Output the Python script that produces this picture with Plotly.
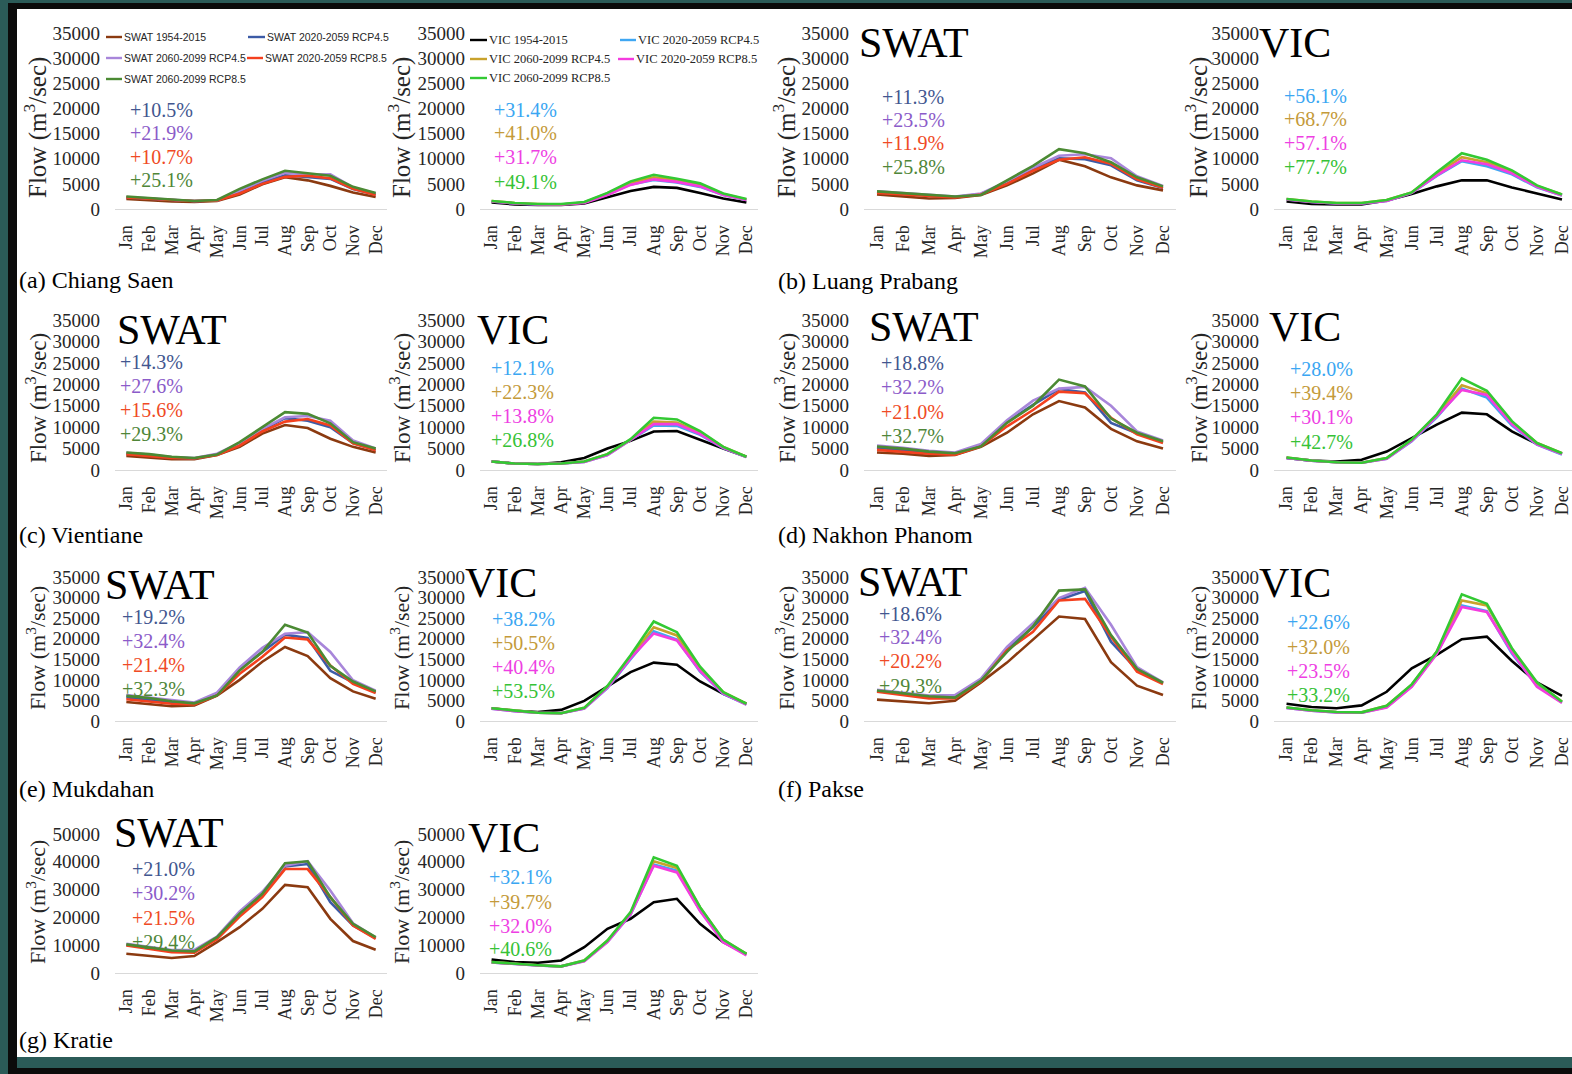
import plotly.graph_objects as go

# ---------------------------------------------------------------------------
# Mean monthly flow (m3/s) at seven Mekong stations, SWAT and VIC models
# ---------------------------------------------------------------------------
MONTHS = ["Jan", "Feb", "Mar", "Apr", "May", "Jun", "Jul", "Aug", "Sep", "Oct", "Nov", "Dec"]
PERIODS = ["1954-2015", "2020-2059 RCP4.5", "2060-2099 RCP4.5", "2020-2059 RCP8.5", "2060-2099 RCP8.5"]

# (a) Chiang Saen
CS_SWAT_HIST = [2000, 1700, 1500, 1400, 1600, 2900, 4900, 6300, 5700, 4600, 3300, 2400]
CS_SWAT_R45A = [2300, 2000, 1800, 1600, 1700, 3400, 5300, 6700, 6400, 6000, 4000, 2900]
CS_SWAT_R45B = [2400, 2100, 1900, 1600, 1700, 3600, 5600, 7200, 6800, 6900, 4300, 3100]
CS_SWAT_R85A = [2300, 2000, 1800, 1600, 1700, 3100, 5000, 6400, 6600, 6100, 4000, 2800]
CS_SWAT_R85B = [2500, 2200, 1900, 1600, 1800, 4000, 5900, 7600, 7100, 6600, 4400, 3200]
CS_SWAT_PCT = [10.5, 21.9, 10.7, 25.1]
CS_VIC_HIST = [1300, 900, 800, 800, 1100, 2400, 3600, 4400, 4200, 3200, 2100, 1300]
CS_VIC_R45A = [1500, 1100, 900, 900, 1300, 2900, 4900, 5800, 5300, 4400, 2800, 1800]
CS_VIC_R45B = [1600, 1200, 1000, 900, 1300, 3100, 5300, 6300, 5800, 4900, 3000, 1900]
CS_VIC_R85A = [1500, 1100, 900, 900, 1200, 2800, 4800, 5900, 5400, 4500, 2800, 1800]
CS_VIC_R85B = [1600, 1200, 1000, 1000, 1400, 3200, 5500, 6800, 6000, 5100, 3100, 2000]
CS_VIC_PCT = [31.4, 41.0, 31.7, 49.1]

# (b) Luang Prabang
LP_SWAT_HIST = [2900, 2500, 2100, 2200, 2800, 4700, 7100, 9800, 8500, 6300, 4700, 3700]
LP_SWAT_R45A = [3300, 3000, 2600, 2400, 3000, 5200, 7900, 10100, 9900, 8700, 5700, 4200]
LP_SWAT_R45B = [3500, 3200, 2800, 2500, 3100, 5500, 8200, 10600, 10900, 10100, 6500, 4600]
LP_SWAT_R85A = [3200, 2900, 2500, 2300, 2900, 5000, 7600, 9800, 10300, 9000, 5900, 4200]
LP_SWAT_R85B = [3500, 3200, 2800, 2500, 2800, 5700, 8600, 11900, 11100, 9300, 6300, 4500]
LP_SWAT_PCT = [11.3, 23.5, 11.9, 25.8]
LP_VIC_HIST = [1500, 1000, 900, 900, 1700, 3000, 4500, 5700, 5700, 4300, 3100, 1900]
LP_VIC_R45A = [1900, 1400, 1100, 1100, 1600, 3200, 6600, 9500, 8500, 6900, 4300, 2700]
LP_VIC_R45B = [2000, 1500, 1200, 1200, 1800, 3300, 7000, 10300, 9300, 7500, 4600, 2900]
LP_VIC_R85A = [1900, 1400, 1100, 1100, 1600, 3200, 6700, 9700, 8900, 7100, 4400, 2700]
LP_VIC_R85B = [2000, 1500, 1200, 1200, 1800, 3300, 7300, 11100, 9800, 7700, 4700, 2900]
LP_VIC_PCT = [56.1, 68.7, 57.1, 77.7]

# (c) Vientiane
VT_SWAT_HIST = [3300, 2900, 2500, 2500, 3500, 5400, 8500, 10500, 9800, 7300, 5400, 4100]
VT_SWAT_R45A = [3800, 3400, 2900, 2700, 3600, 6000, 9300, 12100, 11500, 10000, 6300, 4700]
VT_SWAT_R45B = [4000, 3600, 3000, 2800, 3800, 6300, 9600, 12300, 12600, 11500, 6900, 5000]
VT_SWAT_R85A = [3700, 3300, 2800, 2700, 3500, 5700, 9000, 11300, 11900, 10400, 6200, 4600]
VT_SWAT_R85B = [4100, 3700, 3100, 2800, 3600, 6500, 10000, 13500, 13100, 10900, 6500, 5000]
VT_SWAT_PCT = [14.3, 27.6, 15.6, 29.3]
VT_VIC_HIST = [2000, 1500, 1400, 1800, 2800, 5000, 6800, 9000, 9100, 7000, 5000, 3100]
VT_VIC_R45A = [2000, 1500, 1400, 1500, 1900, 3500, 7000, 10400, 10300, 8200, 5100, 3000]
VT_VIC_R45B = [2000, 1500, 1400, 1500, 2000, 3700, 7100, 11300, 11100, 8800, 5400, 3100]
VT_VIC_R85A = [2000, 1500, 1400, 1500, 1900, 3500, 7000, 10700, 10700, 8400, 5200, 3000]
VT_VIC_R85B = [2000, 1500, 1400, 1500, 2000, 3700, 7200, 12200, 11800, 9100, 5400, 3100]
VT_VIC_PCT = [12.1, 22.3, 13.8, 26.8]

# (d) Nakhon Phanom
NP_SWAT_HIST = [4100, 3800, 3300, 3500, 5400, 8700, 13000, 16100, 14600, 9600, 6700, 5000]
NP_SWAT_R45A = [5200, 4700, 4100, 3800, 5800, 11200, 15200, 18900, 18100, 11000, 8600, 6500]
NP_SWAT_R45B = [5700, 5200, 4500, 4100, 6100, 11600, 16200, 19000, 19400, 15000, 9000, 6900]
NP_SWAT_R85A = [4700, 4300, 3800, 3600, 5500, 10200, 14000, 18300, 17900, 12200, 8300, 6300]
NP_SWAT_R85B = [5500, 5000, 4300, 3900, 5500, 11000, 15000, 21100, 19500, 12000, 8700, 6700]
NP_SWAT_PCT = [18.8, 32.2, 21.0, 32.7]
NP_VIC_HIST = [2800, 2200, 2000, 2400, 4300, 7500, 10600, 13400, 13000, 9000, 6100, 3800]
NP_VIC_R45A = [2800, 2200, 1800, 1700, 2600, 6700, 12300, 19000, 16900, 10400, 5900, 3600]
NP_VIC_R45B = [2900, 2200, 1800, 1700, 2800, 7000, 12800, 19800, 17900, 11200, 6300, 3900]
NP_VIC_R85A = [2800, 2200, 1800, 1700, 2600, 6800, 12500, 18700, 17500, 10700, 6000, 3700]
NP_VIC_R85B = [2900, 2200, 1800, 1700, 2800, 7100, 13000, 21400, 18500, 11400, 6300, 3900]
NP_VIC_PCT = [28.0, 39.4, 30.1, 42.7]

# (e) Mukdahan
MD_SWAT_HIST = [4600, 4100, 3600, 3800, 6200, 10000, 14400, 18000, 15800, 10400, 7200, 5400]
MD_SWAT_R45A = [5800, 5200, 4500, 4200, 6600, 12600, 16800, 21000, 20200, 12200, 9400, 7000]
MD_SWAT_R45B = [6300, 5700, 5000, 4500, 6900, 13000, 17800, 21200, 21600, 16800, 9900, 7400]
MD_SWAT_R85A = [5300, 4800, 4200, 4000, 6200, 11500, 15600, 20300, 19800, 13500, 9000, 6800]
MD_SWAT_R85B = [6100, 5600, 4800, 4300, 6200, 12300, 16800, 23400, 21500, 13400, 9600, 7200]
MD_SWAT_PCT = [19.2, 32.4, 21.4, 32.3]
MD_VIC_HIST = [3100, 2500, 2200, 2700, 4900, 8500, 11900, 14200, 13700, 9600, 6600, 4200]
MD_VIC_R45A = [3000, 2400, 2000, 1900, 3000, 8000, 15000, 21800, 19800, 12000, 6600, 4000]
MD_VIC_R45B = [3100, 2500, 2000, 1900, 3200, 8400, 15700, 22800, 20800, 12800, 7000, 4200]
MD_VIC_R85A = [3000, 2400, 2000, 1900, 3000, 8100, 15300, 21300, 19600, 12200, 6700, 4000]
MD_VIC_R85B = [3100, 2500, 2000, 1900, 3200, 8500, 16000, 24200, 21600, 13200, 7000, 4200]
MD_VIC_PCT = [38.2, 50.5, 40.4, 53.5]

# (f) Pakse
PK_SWAT_HIST = [5200, 4700, 4300, 4900, 9400, 14200, 19700, 25400, 24800, 14300, 8600, 6300]
PK_SWAT_R45A = [7300, 6600, 5800, 5800, 9900, 17500, 22800, 29500, 31600, 19300, 12500, 9200]
PK_SWAT_R45B = [7600, 6900, 6200, 6300, 10300, 18000, 23800, 29900, 32400, 23400, 13100, 9400]
PK_SWAT_R85A = [7100, 6300, 5500, 5500, 9600, 17200, 21700, 29300, 29700, 20500, 12000, 9000]
PK_SWAT_R85B = [7400, 6700, 6000, 5700, 9800, 16800, 23000, 31700, 32000, 20900, 12700, 9300]
PK_SWAT_PCT = [18.6, 32.4, 20.2, 29.3]
PK_VIC_HIST = [4200, 3400, 3100, 3800, 7100, 12800, 16100, 19900, 20500, 14600, 9400, 6100]
PK_VIC_R45A = [3200, 2500, 2100, 2000, 3400, 8400, 16500, 28100, 26700, 16400, 8600, 4500]
PK_VIC_R45B = [3300, 2600, 2200, 2100, 3700, 8800, 16900, 29300, 28100, 17500, 9200, 4700]
PK_VIC_R85A = [3200, 2500, 2100, 2000, 3300, 8300, 16300, 27700, 26500, 16800, 8300, 4400]
PK_VIC_R85B = [3300, 2600, 2200, 2100, 3700, 8900, 16900, 30800, 28500, 17700, 9400, 4700]
PK_VIC_PCT = [22.6, 32.0, 23.5, 33.2]

# (g) Kratie
KR_SWAT_HIST = [6900, 6100, 5400, 6100, 11100, 16500, 23100, 31700, 30900, 19500, 11500, 8400]
KR_SWAT_R45A = [10100, 9200, 8000, 8000, 12600, 21600, 28300, 38300, 39200, 25500, 17100, 12600]
KR_SWAT_R45B = [10500, 9500, 8300, 8300, 13100, 22200, 29200, 38600, 40200, 29700, 17900, 12700]
KR_SWAT_R85A = [9900, 8800, 7500, 7300, 12200, 20300, 27300, 37400, 37400, 27300, 17100, 12300]
KR_SWAT_R85B = [10300, 9300, 8100, 7800, 12900, 21300, 28500, 39500, 40200, 27300, 17700, 12900]
KR_SWAT_PCT = [21.0, 30.2, 21.5, 29.4]
KR_VIC_HIST = [4800, 3900, 3700, 4500, 9300, 15900, 19500, 25500, 26700, 17700, 11100, 6900]
KR_VIC_R45A = [3800, 3200, 2700, 2400, 4300, 11200, 21000, 39000, 36800, 22500, 11300, 6500]
KR_VIC_R45B = [3900, 3300, 2800, 2400, 4500, 11600, 21600, 40200, 37800, 23600, 11900, 6900]
KR_VIC_R85A = [3800, 3200, 2700, 2400, 4200, 11100, 21100, 38600, 36200, 22300, 11100, 6300]
KR_VIC_R85B = [3900, 3300, 2800, 2400, 4500, 11700, 21900, 41600, 38600, 23700, 12000, 6900]
KR_VIC_PCT = [32.1, 39.7, 32.0, 40.6]

STATION_LABELS = ["(a) Chiang Saen", "(b) Luang Prabang", "(c) Vientiane", "(d) Nakhon Phanom",
                  "(e) Mukdahan", "(f) Pakse", "(g) Kratie"]

# ---------------------------------------------------------------------------
# Styling
# ---------------------------------------------------------------------------
W, H = 1572, 1074
SERIF = "Liberation Serif, Times New Roman, serif"
SANS = "Liberation Sans, Arial, sans-serif"
TXT = "#262626"

LINE_COLORS = {
    "SWAT": ["#8B3A10", "#3C5BA6", "#A886DA", "#F4401E", "#4B8A33"],
    "VIC": ["#000000", "#3FA7F2", "#C9A22C", "#F43CDE", "#33C933"],
}
PCT_COLORS = {
    "SWAT": ["#42568F", "#8B5BC9", "#EF4A25", "#4F8638"],
    "VIC": ["#3AA6F2", "#C49A3A", "#EE3FE3", "#36C236"],
}

# plot-area pixel extents
COL_X = {1: (115, 387), 2: (480, 758), 3: (864, 1176), 4: (1274, 1572)}
COL_XMAX = {1: 11.5, 2: 11.5, 3: 11.5, 4: 11.4}
ROW_Y = {1: (33, 209, 35000, 5000), 2: (320, 470, 35000, 5000),
         3: (577, 721, 35000, 5000), 4: (834, 973, 50000, 10000)}
YTITLE_X = {1: 36, 2: 400, 3: 785, 4: 1197}
YTITLE_Y = {1: 128, 2: 398, 3: 648, 4: 902}
YTITLE_SIZE = {1: 25, 2: 23, 3: 22, 4: 22}


def px(x):
    return x / W


def py(y):
    return 1 - y / H


PANELS = [
    dict(model="SWAT", col=1, row=1, s=[CS_SWAT_HIST, CS_SWAT_R45A, CS_SWAT_R45B, CS_SWAT_R85A, CS_SWAT_R85B],
         pct=CS_SWAT_PCT, px=128, py=[110, 133, 157, 180], title=None),
    dict(model="VIC", col=2, row=1, s=[CS_VIC_HIST, CS_VIC_R45A, CS_VIC_R45B, CS_VIC_R85A, CS_VIC_R85B],
         pct=CS_VIC_PCT, px=492, py=[110, 133, 157, 182], title=None),
    dict(model="SWAT", col=3, row=1, s=[LP_SWAT_HIST, LP_SWAT_R45A, LP_SWAT_R45B, LP_SWAT_R85A, LP_SWAT_R85B],
         pct=LP_SWAT_PCT, px=880, py=[97, 120, 143, 167], title=(857, 43)),
    dict(model="VIC", col=4, row=1, s=[LP_VIC_HIST, LP_VIC_R45A, LP_VIC_R45B, LP_VIC_R85A, LP_VIC_R85B],
         pct=LP_VIC_PCT, px=1282, py=[96, 119, 143, 167], title=(1257, 43)),
    dict(model="SWAT", col=1, row=2, s=[VT_SWAT_HIST, VT_SWAT_R45A, VT_SWAT_R45B, VT_SWAT_R85A, VT_SWAT_R85B],
         pct=VT_SWAT_PCT, px=118, py=[362, 386, 410, 434], title=(115, 330)),
    dict(model="VIC", col=2, row=2, s=[VT_VIC_HIST, VT_VIC_R45A, VT_VIC_R45B, VT_VIC_R85A, VT_VIC_R85B],
         pct=VT_VIC_PCT, px=489, py=[368, 392, 416, 440], title=(475, 330)),
    dict(model="SWAT", col=3, row=2, s=[NP_SWAT_HIST, NP_SWAT_R45A, NP_SWAT_R45B, NP_SWAT_R85A, NP_SWAT_R85B],
         pct=NP_SWAT_PCT, px=879, py=[363, 387, 412, 436], title=(867, 327)),
    dict(model="VIC", col=4, row=2, s=[NP_VIC_HIST, NP_VIC_R45A, NP_VIC_R45B, NP_VIC_R85A, NP_VIC_R85B],
         pct=NP_VIC_PCT, px=1288, py=[369, 393, 417, 442], title=(1267, 327)),
    dict(model="SWAT", col=1, row=3, s=[MD_SWAT_HIST, MD_SWAT_R45A, MD_SWAT_R45B, MD_SWAT_R85A, MD_SWAT_R85B],
         pct=MD_SWAT_PCT, px=120, py=[617, 641, 665, 689], title=(103, 585)),
    dict(model="VIC", col=2, row=3, s=[MD_VIC_HIST, MD_VIC_R45A, MD_VIC_R45B, MD_VIC_R85A, MD_VIC_R85B],
         pct=MD_VIC_PCT, px=490, py=[619, 643, 667, 691], title=(463, 583)),
    dict(model="SWAT", col=3, row=3, s=[PK_SWAT_HIST, PK_SWAT_R45A, PK_SWAT_R45B, PK_SWAT_R85A, PK_SWAT_R85B],
         pct=PK_SWAT_PCT, px=877, py=[614, 637, 661, 686], title=(856, 582)),
    dict(model="VIC", col=4, row=3, s=[PK_VIC_HIST, PK_VIC_R45A, PK_VIC_R45B, PK_VIC_R85A, PK_VIC_R85B],
         pct=PK_VIC_PCT, px=1285, py=[622, 647, 671, 695], title=(1257, 583)),
    dict(model="SWAT", col=1, row=4, s=[KR_SWAT_HIST, KR_SWAT_R45A, KR_SWAT_R45B, KR_SWAT_R85A, KR_SWAT_R85B],
         pct=KR_SWAT_PCT, px=130, py=[869, 893, 918, 942], title=(112, 833)),
    dict(model="VIC", col=2, row=4, s=[KR_VIC_HIST, KR_VIC_R45A, KR_VIC_R45B, KR_VIC_R85A, KR_VIC_R85B],
         pct=KR_VIC_PCT, px=487, py=[877, 902, 926, 949], title=(466, 838)),
]

STATION_POS = [(17, 280), (776, 281), (17, 535), (776, 535), (17, 789), (776, 789), (17, 1040)]

fig = go.Figure()
annotations = []
shapes = []
layout_axes = {}

for i, p in enumerate(PANELS, start=1):
    xa = "x" if i == 1 else f"x{i}"
    ya = "y" if i == 1 else f"y{i}"
    x0, x1 = COL_X[p["col"]]
    ytop, ybot, ymax, dtick = ROW_Y[p["row"]]
    colors = LINE_COLORS[p["model"]]
    for name, vals, c in zip(PERIODS, p["s"], colors):
        fig.add_trace(go.Scatter(
            x=MONTHS, y=vals, mode="lines", name=f"{p['model']} {name}",
            line=dict(color=c, width=2.6), xaxis=xa, yaxis=ya, showlegend=False,
            hovertemplate="%{x}: %{y}<extra>" + f"{p['model']} {name}" + "</extra>",
        ))
    layout_axes["xaxis" if i == 1 else f"xaxis{i}"] = dict(
        domain=[px(x0), px(x1)], anchor=ya, type="category",
        range=[-0.5, COL_XMAX[p["col"]]], automargin=False,
        showgrid=False, zeroline=False, showline=True, linecolor="#d9d9d9", linewidth=1,
        ticks="", tickangle=-90, ticklabelstandoff=8,
        tickfont=dict(family=SERIF, size=18, color=TXT),
    )
    layout_axes["yaxis" if i == 1 else f"yaxis{i}"] = dict(
        domain=[py(ybot), py(ytop)], anchor=xa, range=[0, ymax * 1.0004], automargin=False,
        tickmode="linear", tick0=0, dtick=dtick, tickformat="d",
        showgrid=False, zeroline=False, showline=False, ticks="",
        ticklabelstandoff=14,
        tickfont=dict(family=SERIF, size=19, color=TXT),
    )
    # y-axis title
    annotations.append(dict(
        x=px(YTITLE_X[p["col"]]), y=py(YTITLE_Y[p["row"]]), xref="paper", yref="paper",
        text="Flow (m<sup>3</sup>/sec)", textangle=-90, showarrow=False,
        xanchor="center", yanchor="middle",
        font=dict(family=SERIF, size=YTITLE_SIZE[p["row"]], color=TXT),
    ))
    # percentage changes
    for v, yy, c in zip(p["pct"], p["py"], PCT_COLORS[p["model"]]):
        annotations.append(dict(
            x=px(p["px"]), y=py(yy), xref="paper", yref="paper", text=f"+{v:.1f}%",
            showarrow=False, xanchor="left", yanchor="middle",
            font=dict(family=SERIF, size=20, color=c),
        ))
    # model title
    if p["title"]:
        tx, ty = p["title"]
        annotations.append(dict(
            x=px(tx), y=py(ty), xref="paper", yref="paper", text=p["model"],
            showarrow=False, xanchor="left", yanchor="middle",
            font=dict(family=SERIF, size=42, color="#000000"),
        ))

# station captions
for label, (sx, sy) in zip(STATION_LABELS, STATION_POS):
    annotations.append(dict(
        x=px(sx), y=py(sy), xref="paper", yref="paper", text=label, showarrow=False,
        xanchor="left", yanchor="middle", font=dict(family=SERIF, size=24, color="#000000"),
    ))

# legends for the two models (drawn in the first station's panels)
LEGEND_SLOTS = {
    "SWAT": [(106, 122, 37), (248, 265, 37), (106, 122, 58), (247, 263, 58), (106, 122, 79)],
    "VIC": [(470, 487, 40), (620, 636, 40), (470, 487, 59), (618, 634, 59), (470, 487, 78)],
}
LEGEND_FONT = {"SWAT": dict(family=SANS, size=10.5, color=TXT),
               "VIC": dict(family=SERIF, size=12.5, color=TXT)}
for model, slots in LEGEND_SLOTS.items():
    for (lx0, lx1, ly), name, c in zip(slots, PERIODS, LINE_COLORS[model]):
        shapes.append(dict(type="line", xref="paper", yref="paper",
                           x0=px(lx0), x1=px(lx1), y0=py(ly), y1=py(ly),
                           line=dict(color=c, width=2.4)))
        annotations.append(dict(
            x=px(lx1 + 1), y=py(ly), xref="paper", yref="paper", text=f"{model} {name}",
            showarrow=False, xanchor="left", yanchor="middle", font=LEGEND_FONT[model],
            borderpad=0,
        ))

# dark frame around the page
FRAME_DARK = "#0b0b0b"
FRAME_TEAL = "#2b5b58"
frame = [
    (0, 17, 0, H, FRAME_DARK),
    (0, W, 0, 9, FRAME_DARK),
    (0, W, 1057, H, FRAME_DARK),
    (0, 8, 0, H, FRAME_TEAL),
    (0, W, 0, 3, FRAME_TEAL),
    (17, W, 1057, 1068, FRAME_TEAL),
]
for fx0, fx1, fy0, fy1, fc in frame:
    shapes.append(dict(type="rect", xref="paper", yref="paper",
                       x0=px(fx0), x1=px(fx1), y0=py(fy1), y1=py(fy0),
                       fillcolor=fc, line=dict(width=0), layer="above"))

fig.update_layout(
    width=W, height=H, autosize=False,
    margin=dict(l=0, r=0, t=0, b=0, pad=0, autoexpand=False),
    paper_bgcolor="#ffffff", plot_bgcolor="rgba(0,0,0,0)",
    showlegend=False, annotations=annotations, shapes=shapes,
    **layout_axes,
)

fig.write_html("out.html")
